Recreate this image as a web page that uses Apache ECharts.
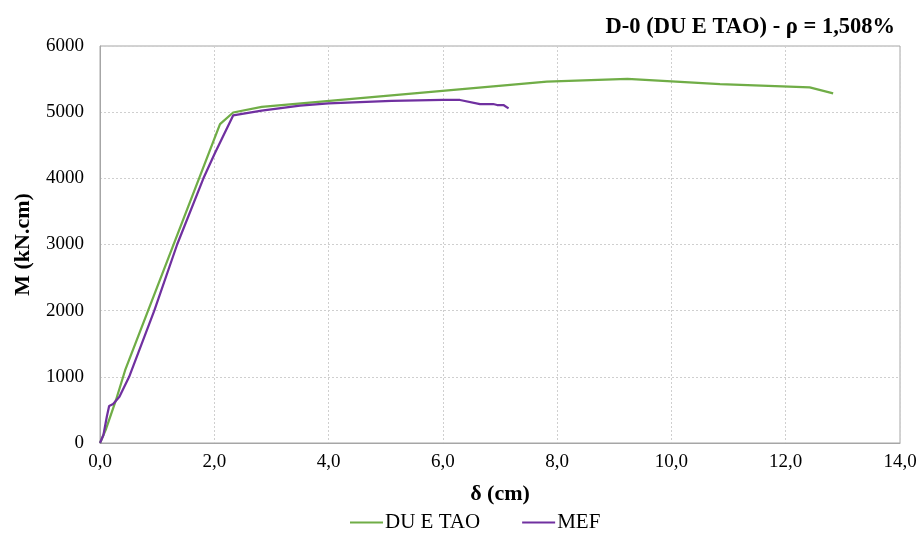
<!DOCTYPE html>
<html>
<head>
<meta charset="utf-8">
<script src="https://cdn.jsdelivr.net/npm/echarts@6/dist/echarts.min.js"></script>
<style>
  html, body { margin: 0; padding: 0; background: #fff; }
  #chart { width: 920px; height: 538px; }
</style>
</head>
<body>
<div id="chart"></div>
<script>
// Moment–deflection curves for beam D-0
const seriesNames = ['DU E TAO', 'MEF'];

// DU E TAO curve: deflection δ (cm) and moment M (kN.cm)
const duETaoDelta = [0, 0.10, 0.28, 0.44, 2.10, 2.33, 2.83, 7.82, 9.23, 10.85, 12.42, 12.83];
const duETaoMoment = [0, 200, 650, 1100, 4820, 4995, 5080, 5460, 5505, 5425, 5375, 5285];

// MEF (finite element) curve
const mefDelta = [0, 0.06, 0.12, 0.16, 0.23, 0.34, 0.51, 0.95, 1.35, 1.81, 2.01, 2.33, 2.83, 3.50, 4.00, 5.10, 6.00, 6.30, 6.65, 6.88, 6.95, 7.06, 7.15];
const mefMoment = [0, 120, 400, 560, 590, 700, 1000, 2000, 3000, 4000, 4380, 4950, 5022, 5098, 5133, 5169, 5184, 5184, 5123, 5123, 5108, 5108, 5058];

const xTicks = { min: 0, max: 14, interval: 2 };
const yTicks = { min: 0, max: 6000, interval: 1000 };

const pairs = (xs, ys) => xs.map((x, i) => [x, ys[i]]);

const font = 'Liberation Serif, Times New Roman, serif';
const chart = echarts.init(document.getElementById('chart'), null, { renderer: 'canvas' });

chart.setOption({
  backgroundColor: '#fff',
  animation: false,
  title: {
    text: 'D-0 (DU E TAO) - ρ = 1,508%',
    right: 20,
    top: 11,
    textStyle: { fontFamily: font, fontSize: 22.5, fontWeight: 'bold', color: '#000' }
  },
  legend: {
    data: seriesNames,
    bottom: 0,
    left: 345,
    itemGap: 42,
    itemWidth: 33,
    itemHeight: 2,
    icon: 'rect',
    textStyle: { fontFamily: font, fontSize: 21, color: '#000', padding: [0, 0, 0, -3] }
  },
  grid: {
    left: 100, right: 20, top: 46, bottom: 95,
    show: true, borderColor: '#a6a6a6', borderWidth: 1, backgroundColor: 'transparent'
  },
  xAxis: {
    type: 'value',
    min: xTicks.min, max: xTicks.max, interval: xTicks.interval,
    name: 'δ (cm)',
    nameLocation: 'middle',
    nameGap: 40,
    nameTextStyle: { fontFamily: font, fontSize: 22, fontWeight: 'bold', color: '#000' },
    axisLine: { show: true, lineStyle: { color: '#a6a6a6' } },
    axisTick: { show: false },
    axisLabel: {
      fontFamily: font, fontSize: 19, color: '#000', margin: 10,
      formatter: v => v.toFixed(1).replace('.', ',')
    },
    splitLine: { show: true, lineStyle: { color: '#cfcfcf', type: [2, 2], width: 1 } }
  },
  yAxis: {
    type: 'value',
    min: yTicks.min, max: yTicks.max, interval: yTicks.interval,
    name: 'M (kN.cm)',
    nameLocation: 'middle',
    nameGap: 66,
    nameTextStyle: { fontFamily: font, fontSize: 22, fontWeight: 'bold', color: '#000' },
    axisLine: { show: true, lineStyle: { color: '#a6a6a6' } },
    axisTick: { show: false },
    axisLabel: { fontFamily: font, fontSize: 19, color: '#000', margin: 16, formatter: v => String(v) },
    splitLine: { show: true, lineStyle: { color: '#cfcfcf', type: [2, 2], width: 1 } }
  },
  series: [
    {
      name: seriesNames[0],
      type: 'line',
      data: pairs(duETaoDelta, duETaoMoment),
      showSymbol: false,
      color: '#70ad47',
      lineStyle: { width: 2.25, color: '#70ad47' }
    },
    {
      name: seriesNames[1],
      type: 'line',
      data: pairs(mefDelta, mefMoment),
      showSymbol: false,
      color: '#7030a0',
      lineStyle: { width: 2.25, color: '#7030a0' }
    }
  ]
});
</script>
</body>
</html>
